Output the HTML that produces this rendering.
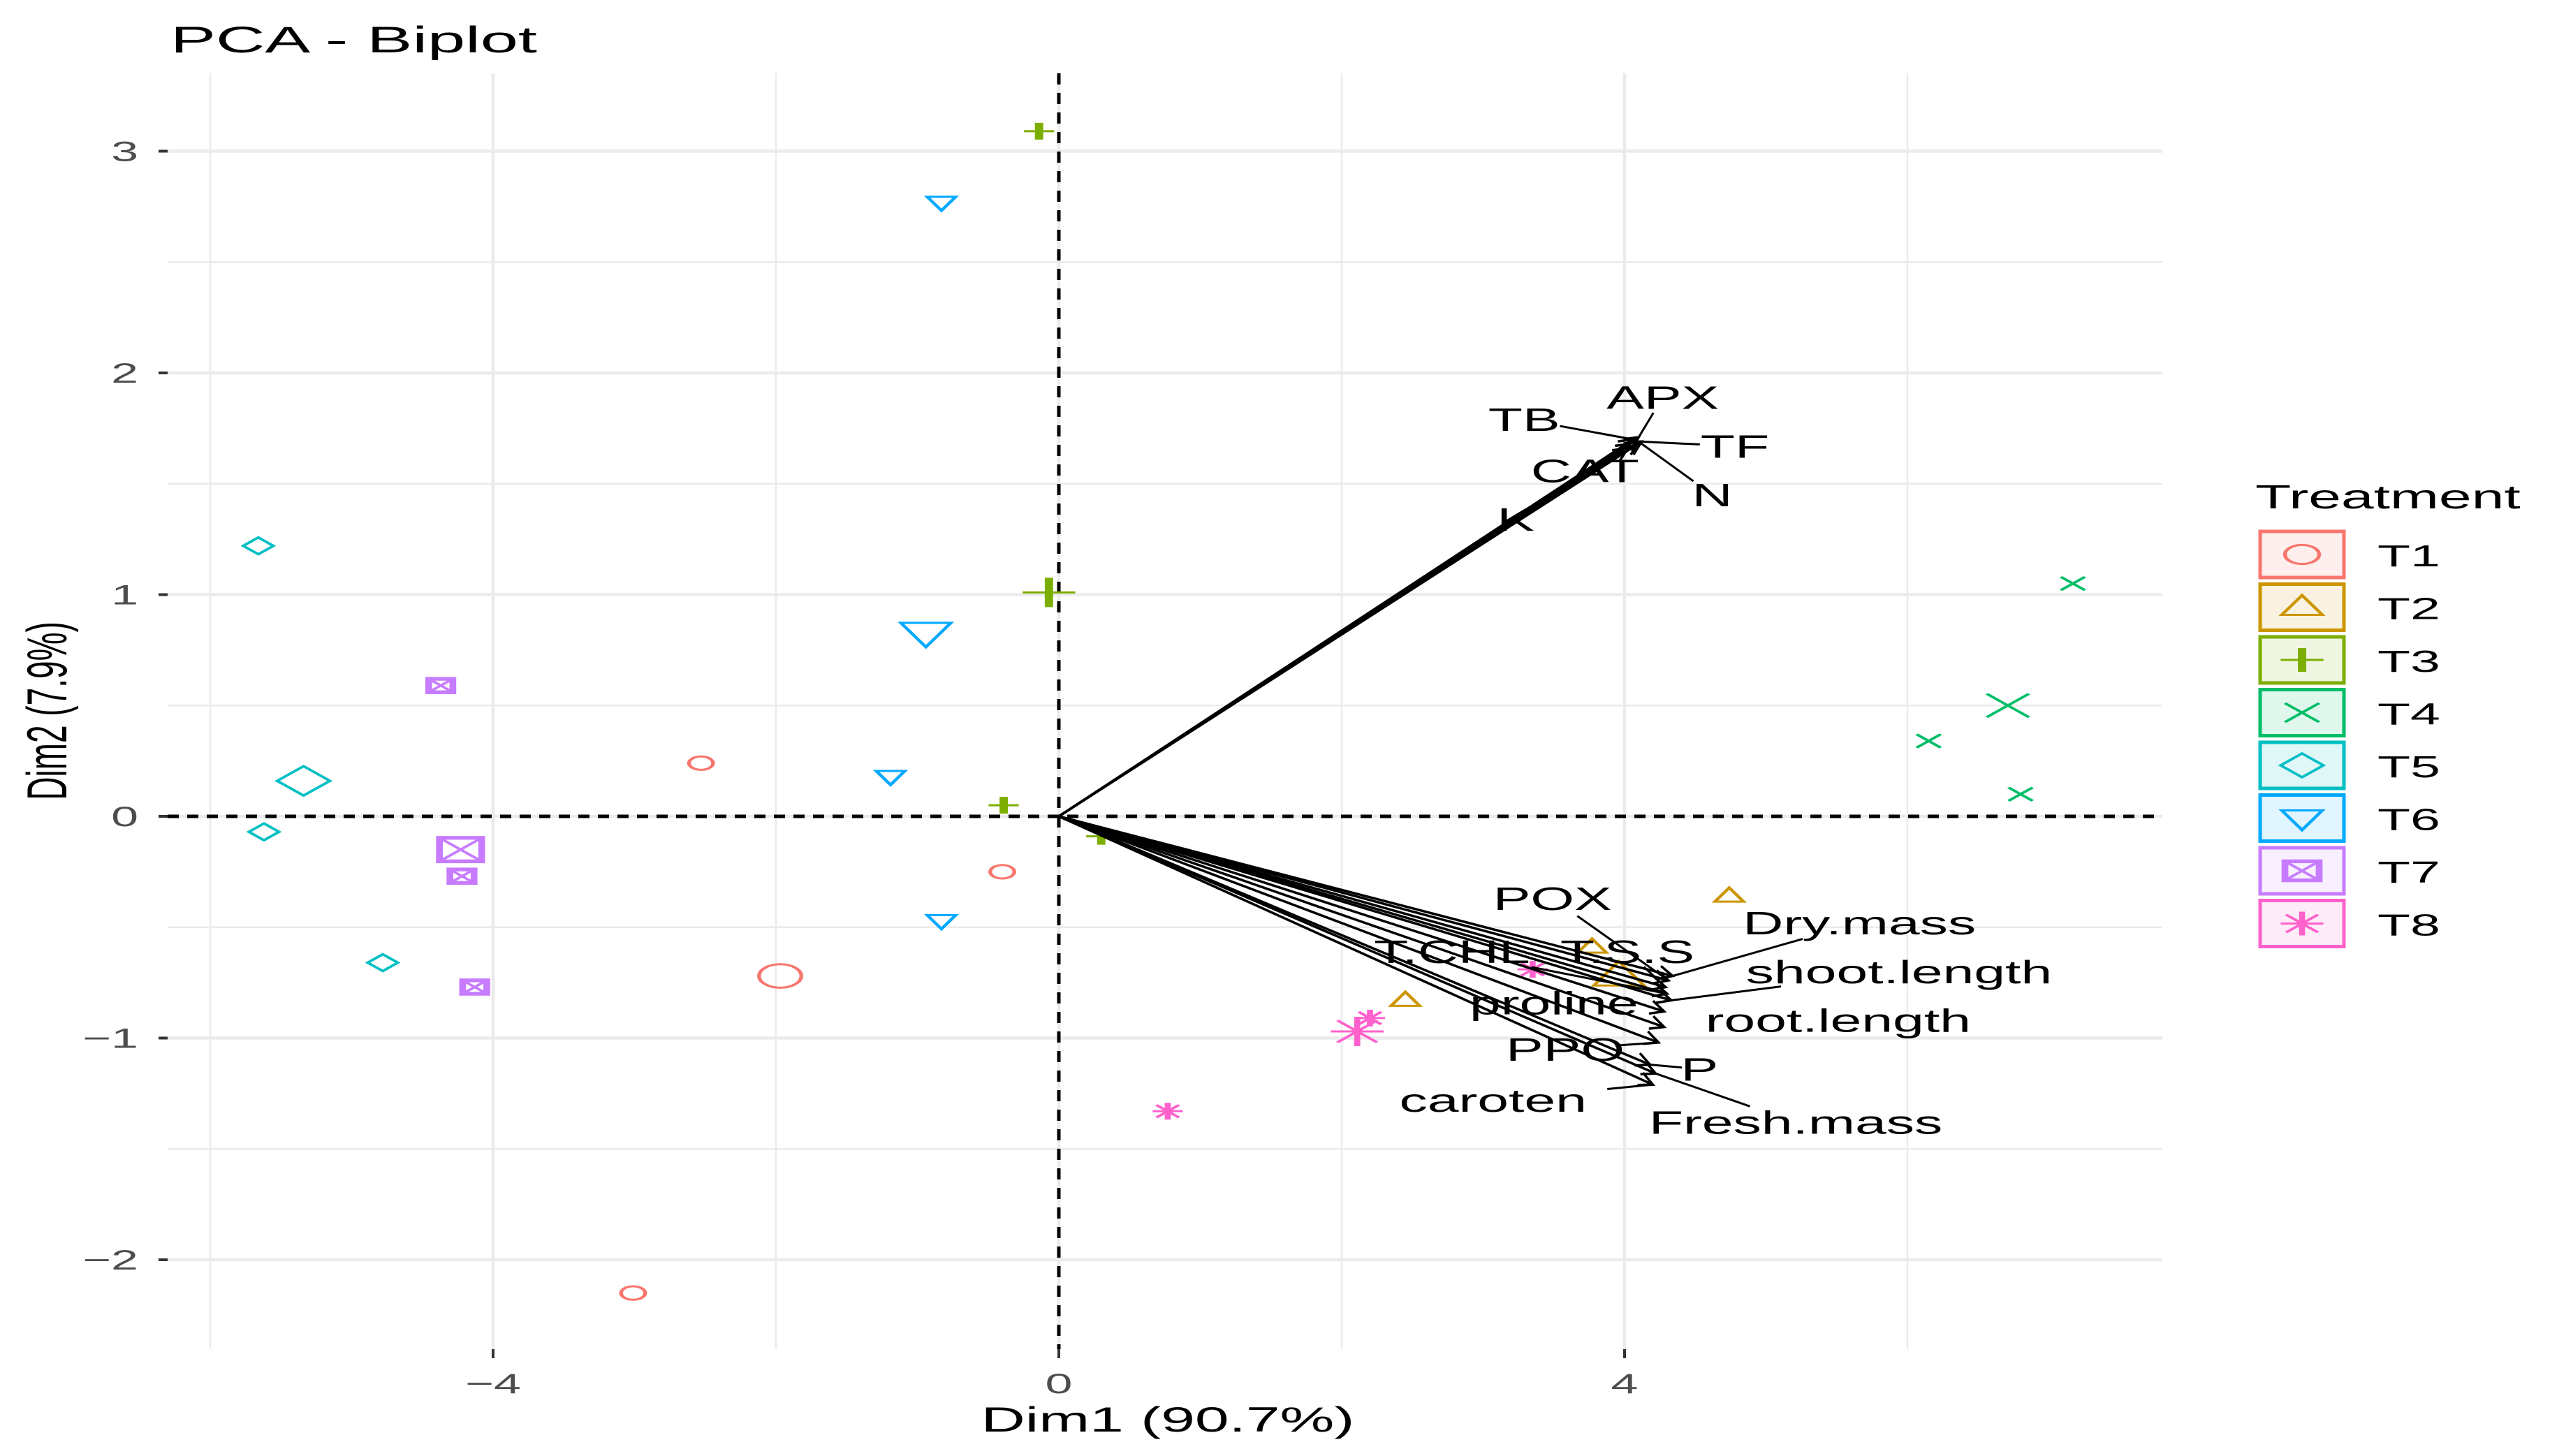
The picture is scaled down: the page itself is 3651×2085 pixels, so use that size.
<!DOCTYPE html>
<html><head><meta charset="utf-8"><style>
html,body{margin:0;padding:0;background:#fff;}
svg{display:block;font-family:"Liberation Sans",Arial,sans-serif;}
</style></head><body>
<svg id="chart" width="3651" height="2085" viewBox="0 0 3651 2085" xmlns="http://www.w3.org/2000/svg">
<rect x="0" y="0" width="3651" height="2085" fill="#fff"/>
<g id="grid"></g>
<g id="refl"></g>
<g id="pts"></g>
<g id="vecs"></g>
<g id="axes"></g>
<g id="legend"></g>
</svg>
<script>
// ---- data ----
const xTicks = [-4, 0, 4];
const yTicks = [-2, -1, 0, 1, 2, 3];
const xTickLabels = ["\u22124", "0", "4"];
const yTickLabels = ["\u22122", "\u22121", "0", "1", "2", "3"];
const groups = ["T1","T2","T3","T4","T5","T6","T7","T8"];
const groupColors = ["#F8766D","#CD9600","#7CAE00","#00BE67","#00BFC4","#00A9FF","#C77CFF","#FF61CC"];
const groupShapes = ["circle","triangle","plus","cross","diamond","tridown","boxx","star"];
const indX = {
  T1:[-2.53,-0.40,-3.01], T2:[4.74,2.45,3.77], T3:[-0.14,-0.39,0.30], T4:[7.17,6.15,6.80],
  T5:[-5.66,-5.62,-4.78], T6:[-0.83,-1.19,-0.83], T7:[-4.37,-4.22,-4.13], T8:[3.35,2.20,0.77]
};
const indY = {
  T1:[0.24,-0.25,-2.15], T2:[-0.36,-0.83,-0.59], T3:[3.09,0.05,-0.09], T4:[1.05,0.34,0.10],
  T5:[1.22,-0.07,-0.66], T6:[2.77,0.18,-0.47], T7:[0.59,-0.27,-0.77], T8:[-0.69,-0.91,-1.33]
};
const centX = [-1.97,3.96,-0.07,6.71,-5.34,-0.94,-4.23,2.11];
const centY = [-0.72,-0.72,1.01,0.50,0.16,0.83,-0.15,-0.97];
const varNames = ["TB","APX","TF","CAT","N","K","POX","Dry.mass","T.CHL","T.S.S","shoot.length","proline","root.length","PPO","P","caroten","Fresh.mass"];
const varX = [4.06,4.10,4.12,4.04,4.10,4.02,4.31,4.34,4.30,4.29,4.33,4.28,4.28,4.24,4.18,4.20,4.22];
const varY = [1.70,1.71,1.69,1.68,1.69,1.66,-0.74,-0.72,-0.80,-0.77,-0.83,-0.88,-0.95,-1.02,-1.12,-1.21,-1.16];
const labX = [3.29,4.27,4.78,3.72,4.62,3.23,3.49,5.66,2.78,4.02,5.94,3.50,5.51,3.58,4.53,3.07,5.21];
const labY = [1.79,1.89,1.67,1.56,1.45,1.34,-0.37,-0.48,-0.61,-0.61,-0.70,-0.84,-0.92,-1.05,-1.14,-1.28,-1.38];

// ---- scales ----
const X0=1516, XS=202.5, Y0=1169, YS=317.5;
const PL=240, PR=3096, PT=105, PB=1932;
function sx(v){return X0+v*XS;}
function sy(v){return Y0-v*YS;}
const NS="http://www.w3.org/2000/svg";
function mk(tag, attrs, parent){const e=document.createElementNS(NS,tag);for(const k in attrs)e.setAttribute(k,attrs[k]);parent.appendChild(e);return e;}
const SX=1.75;
function txt(parent,x,y,s,size,anchor,color,name){
  const t=mk('text',{x:0,y:0,'font-size':size,'text-anchor':anchor,fill:color,transform:`translate(${x},${y}) scale(${SX},1)`},parent);
  t.textContent=s;
  
  
  return t;
}
const svg=document.getElementById('chart');
const grid=document.getElementById('grid');
// minor grid
for(let v=-6; v<=8; v+=4){ if(sx(v)<PL||sx(v)>PR) continue;
  const l=mk('line',{x1:sx(v),x2:sx(v),y1:PT,y2:PB,stroke:'#EBEBEB','stroke-width':2.5},grid);
  
  
}
for(let v=-2.5; v<=3.5; v+=1){ if(sy(v)<PT||sy(v)>PB) continue;
  const l=mk('line',{x1:PL,x2:PR,y1:sy(v),y2:sy(v),stroke:'#EBEBEB','stroke-width':2.5},grid);
  
  
}
xTicks.forEach(v=>{const l=mk('line',{x1:sx(v),x2:sx(v),y1:PT,y2:PB,stroke:'#EBEBEB','stroke-width':4.5},grid);
  
  });
yTicks.forEach(v=>{const l=mk('line',{x1:PL,x2:PR,y1:sy(v),y2:sy(v),stroke:'#EBEBEB','stroke-width':4.5},grid);
  
  });
// reference dashed lines
const refl=document.getElementById('refl');
const r1=mk('line',{x1:sx(0),x2:sx(0),y1:PT,y2:PB,stroke:'#000','stroke-width':5,'stroke-dasharray':'16 12'},refl);


const r2=mk('line',{x1:PL,x2:PR,y1:sy(0),y2:sy(0),stroke:'#000','stroke-width':5,'stroke-dasharray':'16 12'},refl);



// shapes
function shape(parent,type,cx,cy,r,color,sw){
  const g=mk('g',{transform:`translate(${cx},${cy}) scale(1.8,1)`,fill:'none',stroke:color,'stroke-width':sw},parent);
  const a={};
  if(type==='circle') mk('circle',{cx:0,cy:0,r:r*0.8},g);
  else if(type==='triangle') mk('polygon',{points:`0,${-r} ${r*0.95},${r*0.65} ${-r*0.95},${r*0.65}`},g);
  else if(type==='tridown') mk('polygon',{points:`0,${r} ${r*0.95},${-r*0.65} ${-r*0.95},${-r*0.65}`},g);
  else if(type==='plus'){mk('line',{x1:-r,x2:r,y1:0,y2:0},g);mk('line',{x1:0,x2:0,y1:-r,y2:r,'stroke-width':sw*2.2},g);}
  else if(type==='cross'){mk('line',{x1:-r*0.8,x2:r*0.8,y1:-r*0.8,y2:r*0.8},g);mk('line',{x1:-r*0.8,x2:r*0.8,y1:r*0.8,y2:-r*0.8},g);}
  else if(type==='diamond') mk('polygon',{points:`0,${-r} ${r},0 0,${r} ${-r},0`},g);
  else if(type==='boxx'){mk('rect',{x:-r*0.8,y:-r*0.8,width:r*1.6,height:r*1.6,'stroke-width':sw*1.8},g);mk('line',{x1:-r*0.8,x2:r*0.8,y1:-r*0.8,y2:r*0.8},g);mk('line',{x1:-r*0.8,x2:r*0.8,y1:r*0.8,y2:-r*0.8},g);}
  else if(type==='star'){mk('line',{x1:-r,x2:r,y1:0,y2:0},g);mk('line',{x1:0,x2:0,y1:-r,y2:r,'stroke-width':sw*1.6},g);mk('line',{x1:-r*0.75,x2:r*0.75,y1:-r*0.75,y2:r*0.75},g);mk('line',{x1:-r*0.75,x2:r*0.75,y1:r*0.75,y2:-r*0.75},g);}
  return g;
}
const pts=document.getElementById('pts');
groups.forEach((gname,i)=>{
  indX[gname].forEach((xv,j)=>{
    const g=shape(pts,groupShapes[i],sx(xv),sy(indY[gname][j]),12,groupColors[i],3);
    
    
  });
  const c=shape(pts,groupShapes[i],sx(centX[i]),sy(centY[i]),21,groupColors[i],3);
  
  
});

// vectors
const vecs=document.getElementById('vecs');
varNames.forEach((nm,i)=>{
  const x1=sx(0),y1=sy(0),x2=sx(varX[i]),y2=sy(varY[i]);
  const ln=mk('line',{x1,y1,x2,y2,stroke:'#000','stroke-width':3.5},vecs);
  
  
  const ang=Math.atan2(y2-y1,x2-x1), L=22;
  const hp=`M${x2-L*Math.cos(ang-0.45)},${y2-L*Math.sin(ang-0.45)} L${x2},${y2} L${x2-L*Math.cos(ang+0.45)},${y2-L*Math.sin(ang+0.45)}`;
  const h=mk('path',{d:hp,stroke:'#000','stroke-width':3.5,fill:'none'},vecs);
  
  
  // label
  const lx=sx(labX[i]), ly=sy(labY[i]);
  const fs=46, hw=nm.length*fs*0.27*SX, hh=fs*0.42;
  // leader segment from bbox edge to tip
  const dx=x2-lx, dy=y2-ly;
  const tx=Math.abs(dx)>0?hw/Math.abs(dx):1e9, ty=Math.abs(dy)>0?hh/Math.abs(dy):1e9;
  const t=Math.min(tx,ty);
  if(t<0.85){
    const s=mk('line',{x1:lx+dx*(t+0.05),y1:ly+dy*(t+0.05),x2:x2,y2:y2,stroke:'#000','stroke-width':3},vecs);
    
    
  }
  txt(vecs,lx,ly+fs*0.36,nm,fs,'middle','#000','var-label-'+nm.toLowerCase());
});

// axes
const axes=document.getElementById('axes');
xTicks.forEach((v,i)=>{
  const l=mk('line',{x1:sx(v),x2:sx(v),y1:PB,y2:PB+13,stroke:'#333','stroke-width':4},axes);
  
  
  txt(axes,sx(v),1995,xTickLabels[i],40,'middle','#4D4D4D','x-tick-label');
});
yTicks.forEach((v,i)=>{
  const l=mk('line',{x1:PL-13,x2:PL,y1:sy(v),y2:sy(v),stroke:'#333','stroke-width':4},axes);
  
  
  txt(axes,198,sy(v)+14,yTickLabels[i],40,'end','#4D4D4D','y-tick-label');
});
txt(axes,1672,2050,'Dim1 (90.7%)',50,'middle','#000','x-axis-title');
const yt=mk('text',{x:0,y:0,'font-size':46,'text-anchor':'middle',fill:'#000',transform:`translate(95,1018) scale(${SX},1) rotate(-90)`},axes);
yt.textContent='Dim2 (7.9%)';


const tt=mk('text',{x:244,y:75,'font-size':53,fill:'#000',textLength:525,lengthAdjust:'spacingAndGlyphs'},axes);
tt.textContent='PCA - Biplot';



// legend
const leg=document.getElementById('legend');
txt(leg,3229,728,'Treatment',48,'start','#000','legend-title');
groups.forEach((gname,i)=>{
  const cy=794+i*75.5;
  const e=mk('g',{},leg);
  
  
  mk('rect',{x:3236,y:cy-33,width:120,height:66,fill:groupColors[i],'fill-opacity':0.12,stroke:groupColors[i],'stroke-width':5},e);
  shape(e,groupShapes[i],3296,cy,17,groupColors[i],3);
  txt(e,3404,cy+17,gname,44,'start','#000','legend-label-'+gname.toLowerCase());
});
</script>
</body></html>
